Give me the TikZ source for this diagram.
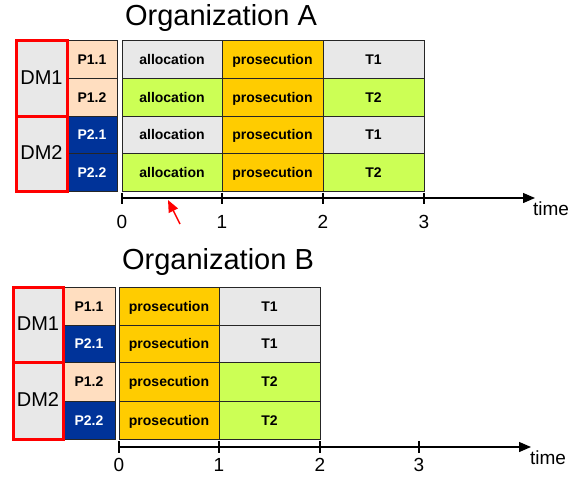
\documentclass[tikz,border=0pt]{standalone}
\usepackage{fontspec}
\setmainfont{Liberation Sans}
\usetikzlibrary{arrows.meta}
\definecolor{cgray}{HTML}{E8E8E8}
\definecolor{cpeach}{HTML}{FFDEC0}
\definecolor{cblue}{HTML}{003399}
\definecolor{cgreen}{HTML}{CCFF55}
\definecolor{corange}{HTML}{FFCC00}
\begin{document}
\begin{tikzpicture}[x=1pt,y=-1pt,
  cell/.style={draw=black!85, line width=1pt, inner sep=0pt, outer sep=0pt, anchor=north west,
    text height=10pt, text depth=0pt,
    font=\fontsize{14}{16}\selectfont\bfseries},
  pa/.style={cell, fill=cpeach},
  pb/.style={cell, fill=cblue, text=white},
  tgray/.style={cell, fill=cgray},
  tgreen/.style={cell, fill=cgreen},
  torange/.style={cell, fill=corange},
  dmbox/.style={draw=red, line width=3pt, fill=cgray, inner sep=0pt, outer sep=0pt, anchor=north west,
    text height=12pt, text depth=0pt,
    font=\fontsize{20}{22}\selectfont},
  titletext/.style={font=\fontsize{29}{34}\selectfont, inner sep=0pt},
  lbl/.style={font=\fontsize{19}{22}\selectfont, inner sep=0pt},
  axisline/.style={line width=1.3pt, -{Triangle[length=12pt,width=10pt]}},
  tickline/.style={line width=1.3pt},
  redarrow/.style={draw=red, line width=1.5pt, -{Triangle[length=12pt,width=10pt]}}
]
\useasboundingbox (0,0) rectangle (582,480);

% ---------------- Organization A ----------------
\node[titletext] (titleA) at (221,18) {Organization A};

\node[pa, minimum width=50pt, minimum height=38pt] (a-p11) at (67,40) {P1.1};
\node[pa, minimum width=50pt, minimum height=38pt] (a-p12) at (67,78) {P1.2};
\node[pb, minimum width=50pt, minimum height=37pt] (a-p21) at (67,116) {P2.1};
\node[pb, minimum width=50pt, minimum height=38pt] (a-p22) at (67,153) {P2.2};

\node[tgray,   minimum width=100pt, minimum height=38pt] (a-r1c1) at (122,40) {allocation};
\node[torange, minimum width=101pt, minimum height=38pt] (a-r1c2) at (222,40) {prosecution};
\node[tgray,   minimum width=101pt, minimum height=38pt] (a-r1c3) at (323,40) {T1};
\node[tgreen,  minimum width=100pt, minimum height=38pt] (a-r2c1) at (122,78) {allocation};
\node[torange, minimum width=101pt, minimum height=38pt] (a-r2c2) at (222,78) {prosecution};
\node[tgreen,  minimum width=101pt, minimum height=38pt] (a-r2c3) at (323,78) {T2};
\node[tgray,   minimum width=100pt, minimum height=37pt] (a-r3c1) at (122,116) {allocation};
\node[torange, minimum width=101pt, minimum height=37pt] (a-r3c2) at (222,116) {prosecution};
\node[tgray,   minimum width=101pt, minimum height=37pt] (a-r3c3) at (323,116) {T1};
\node[tgreen,  minimum width=100pt, minimum height=38pt] (a-r4c1) at (122,153) {allocation};
\node[torange, minimum width=101pt, minimum height=38pt] (a-r4c2) at (222,153) {prosecution};
\node[tgreen,  minimum width=101pt, minimum height=38pt] (a-r4c3) at (323,153) {T2};

\node[dmbox, minimum width=51pt, minimum height=76pt] (a-dm1) at (16,40) {DM1};
\node[dmbox, minimum width=51pt, minimum height=75pt] (a-dm2) at (16,116) {DM2};

\coordinate (a-origin) at (122,198);
\coordinate (a-end) at (535,198);
\draw[axisline] (a-origin) -- (a-end);
\foreach \x/\l in {122/0,222/1,323/2,424/3}{
  \coordinate (a-tt\l) at (\x,192.5);
  \coordinate (a-tb\l) at (\x,204);
  \draw[tickline] (a-tt\l) -- (a-tb\l);
  \node[lbl] (a-n\l) at (\x,222) {\l};
}
\node[lbl] (a-time) at (551,209) {time};

\coordinate (a-arrtail) at (180,224);
\coordinate (a-arrtip) at (168,200);
\draw[redarrow] (a-arrtail) -- (a-arrtip);

% ---------------- Organization B ----------------
\node[titletext] (titleB) at (218,262) {Organization B};

\node[pa, minimum width=52pt, minimum height=38pt] (b-p11) at (63,287) {P1.1};
\node[pb, minimum width=52pt, minimum height=37pt] (b-p21) at (63,325) {P2.1};
\node[pa, minimum width=52pt, minimum height=39pt] (b-p12) at (63,362) {P1.2};
\node[pb, minimum width=52pt, minimum height=38pt] (b-p22) at (63,401) {P2.2};

\node[torange, minimum width=100pt, minimum height=38pt] (b-r1c1) at (119,287) {prosecution};
\node[tgray,   minimum width=101pt, minimum height=38pt] (b-r1c2) at (219,287) {T1};
\node[torange, minimum width=100pt, minimum height=37pt] (b-r2c1) at (119,325) {prosecution};
\node[tgray,   minimum width=101pt, minimum height=37pt] (b-r2c2) at (219,325) {T1};
\node[torange, minimum width=100pt, minimum height=39pt] (b-r3c1) at (119,362) {prosecution};
\node[tgreen,  minimum width=101pt, minimum height=39pt] (b-r3c2) at (219,362) {T2};
\node[torange, minimum width=100pt, minimum height=38pt] (b-r4c1) at (119,401) {prosecution};
\node[tgreen,  minimum width=101pt, minimum height=38pt] (b-r4c2) at (219,401) {T2};

\node[dmbox, minimum width=50pt, minimum height=75pt] (b-dm1) at (13,287) {DM1};
\node[dmbox, minimum width=50pt, minimum height=77pt] (b-dm2) at (13,362) {DM2};

\coordinate (b-origin) at (119,447);
\coordinate (b-end) at (531,447);
\draw[axisline] (b-origin) -- (b-end);
\foreach \x/\l in {119/0,219/1,320/2,419/3}{
  \coordinate (b-tt\l) at (\x,441);
  \coordinate (b-tb\l) at (\x,453);
  \draw[tickline] (b-tt\l) -- (b-tb\l);
  \node[lbl] (b-n\l) at (\x,465) {\l};
}
\node[lbl] (b-time) at (548,458) {time};
\end{tikzpicture}
\end{document}
